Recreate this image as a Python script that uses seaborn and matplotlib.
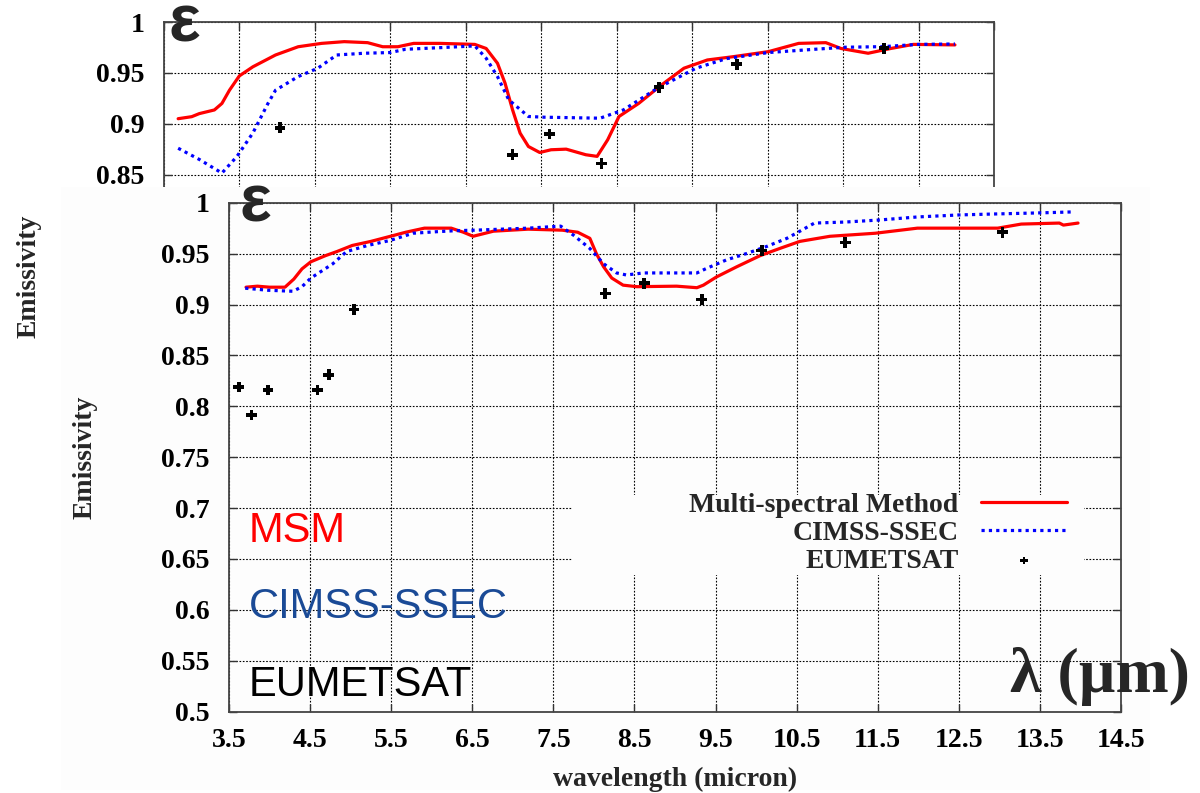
import numpy as np
import pandas as pd
import matplotlib
matplotlib.use("Agg")
import matplotlib.pyplot as plt
import seaborn as sns
from matplotlib.patches import Rectangle

# ---------------- data ----------------
x_ticks = [3.5, 4.5, 5.5, 6.5, 7.5, 8.5, 9.5, 10.5, 11.5, 12.5, 13.5, 14.5]
x_tick_labels = ["3.5", "4.5", "5.5", "6.5", "7.5", "8.5", "9.5", "10.5", "11.5", "12.5", "13.5", "14.5"]
y_ticks = [0.5, 0.55, 0.6, 0.65, 0.7, 0.75, 0.8, 0.85, 0.9, 0.95, 1.0]
y_tick_labels = ["0.5", "0.55", "0.6", "0.65", "0.7", "0.75", "0.8", "0.85", "0.9", "0.95", "1"]

# lower (front) chart
msm_wl = [3.71, 3.85, 4.00, 4.19, 4.30, 4.40, 4.51, 4.69, 4.83, 5.02, 5.25, 5.49, 5.68, 5.91, 6.24,
          6.39, 6.51, 6.76, 7.19, 7.61, 7.80, 7.95, 8.03, 8.12, 8.22, 8.36, 8.53, 9.02, 9.27, 9.35,
          9.51, 9.76, 10.05, 10.29, 10.54, 10.91, 11.47, 11.99, 12.51, 12.98, 13.27, 13.74, 13.79, 13.97]
msm_em = [0.917, 0.918, 0.917, 0.917, 0.925, 0.935, 0.942, 0.948, 0.952, 0.958, 0.962, 0.967, 0.971, 0.975, 0.975,
          0.971, 0.967, 0.972, 0.974, 0.973, 0.971, 0.965, 0.950, 0.937, 0.926, 0.919, 0.9175, 0.918, 0.9165, 0.919,
          0.927, 0.937, 0.948, 0.955, 0.962, 0.967, 0.970, 0.975, 0.975, 0.975, 0.979, 0.980, 0.978, 0.980]

cimss_wl = [3.70, 3.98, 4.29, 4.40, 4.51, 4.78, 4.95, 5.21, 5.49, 5.77, 6.06, 6.29, 6.53, 7.19, 7.59,
            7.75, 7.95, 8.12, 8.28, 8.40, 8.61, 9.27, 9.39, 9.64, 9.88, 10.13, 10.38, 10.54, 10.72, 11.10,
            11.52, 11.99, 12.51, 12.98, 13.50, 13.93]
cimss_em = [0.916, 0.914, 0.913, 0.9175, 0.926, 0.940, 0.952, 0.958, 0.963, 0.970, 0.9715, 0.9725, 0.973, 0.975, 0.977,
            0.968, 0.955, 0.940, 0.931, 0.929, 0.931, 0.931, 0.9355, 0.944, 0.950, 0.957, 0.965, 0.972, 0.980, 0.981,
            0.983, 0.986, 0.988, 0.989, 0.990, 0.991]

eum_wl = [3.62, 3.78, 3.98, 4.59, 4.73, 5.04, 8.14, 8.62, 9.33, 10.07, 11.10, 13.04]
eum_em = [0.819, 0.7915, 0.816, 0.816, 0.831, 0.895, 0.911, 0.921, 0.905, 0.953, 0.961, 0.971]

# upper (back) chart
msm2_wl = [3.69, 3.87, 3.97, 4.17, 4.27, 4.37, 4.50, 4.68, 4.98, 5.28, 5.59, 5.89, 6.20, 6.40, 6.60,
           6.81, 7.16, 7.62, 7.77, 7.92, 8.02, 8.12, 8.22, 8.33, 8.48, 8.63, 8.83, 9.09, 9.24, 9.38,
           9.53, 9.79, 10.09, 10.39, 10.70, 11.05, 11.51, 11.91, 12.27, 12.47, 12.83, 13.13, 13.43, 13.98]
msm2_em = [0.905, 0.907, 0.910, 0.9136, 0.920, 0.933, 0.947, 0.956, 0.9676, 0.9757, 0.979, 0.9807, 0.9797, 0.9757, 0.9757,
           0.979, 0.979, 0.978, 0.974, 0.9595, 0.940, 0.9137, 0.8908, 0.8777, 0.8718, 0.8745, 0.8751, 0.8696, 0.868, 0.8843,
           0.9072, 0.920, 0.938, 0.9546, 0.9627, 0.966, 0.9709, 0.979, 0.9797, 0.974, 0.9693, 0.974, 0.978, 0.9775]

cimss2_wl = [3.69, 3.97, 4.27, 4.47, 4.68, 4.88, 4.98, 5.28, 5.54, 5.79, 6.15, 6.50, 6.70, 7.16, 7.62,
             7.77, 7.92, 8.07, 8.33, 8.53, 9.28, 9.59, 10.04, 10.55, 10.95, 11.51, 12.12, 12.52, 13.03, 13.49, 13.98]
cimss2_em = [0.876, 0.865, 0.8516, 0.868, 0.891, 0.920, 0.933, 0.9464, 0.9546, 0.9676, 0.9693, 0.970, 0.9732, 0.9748, 0.9765,
             0.9644, 0.9464, 0.9235, 0.9072, 0.9065, 0.9055, 0.9137, 0.935, 0.9546, 0.964, 0.970, 0.9732, 0.9752, 0.9758, 0.978, 0.9784]

eum2_wl = [5.04, 8.12, 8.61, 9.30, 10.06, 11.09, 13.04]
eum2_em = [0.896, 0.8696, 0.890, 0.861, 0.936, 0.9585, 0.9742]

series_names = ["Multi-spectral Method", "CIMSS-SSEC", "EUMETSAT"]

# ---------------- style ----------------
sns.set_style("ticks")
plt.rcParams['font.family'] = ['Liberation Serif', 'DejaVu Serif']
plt.rcParams['font.weight'] = 'bold'
plt.rcParams['axes.labelweight'] = 'bold'

W, H = 1200, 793
fig = plt.figure(figsize=(12, 7.93), dpi=100)
fig.patch.set_facecolor('white')


def px_rect(x0, y0, x1, y1):
    return [x0 / W, 1 - y1 / H, (x1 - x0) / W, (y1 - y0) / H]


RED = '#ff0000'
BLUE = '#0000ff'
DOT = (0, (1.0, 1.3))
PANEL = '#fdfdfd'


def style_axes(ax):
    ax.set_xlim(3.5, 14.5)
    ax.set_ylim(0.5, 1.0)
    ax.set_xticks(x_ticks)
    ax.set_xticklabels(x_tick_labels)
    ax.set_yticks(y_ticks)
    ax.set_yticklabels(y_tick_labels)
    ax.grid(True, color='black', linestyle=(0, (1.5, 1.5)), linewidth=0.8)
    ax.set_axisbelow(True)
    ax.tick_params(direction='in', length=6, width=1, top=True, right=True,
                   labelsize=20, colors='#333333', labelcolor='black')
    ax.tick_params(axis='y', pad=14)
    ax.tick_params(axis='x', pad=12)
    for s in ax.spines.values():
        s.set_color('#444444')
        s.set_linewidth(1.3)


# ---- back chart ----
ax_top = fig.add_axes(px_rect(163.8, 22, 994.2, 531), zorder=0)
sns.lineplot(x=msm2_wl, y=msm2_em, ax=ax_top, color=RED, linewidth=2.3, sort=False,
             estimator=None, legend=False, zorder=3)
sns.lineplot(x=cimss2_wl, y=cimss2_em, ax=ax_top, color=BLUE, linewidth=2.3, sort=False,
             estimator=None, legend=False, linestyle=DOT, dash_capstyle='butt', zorder=3)
sns.scatterplot(x=eum2_wl, y=eum2_em, ax=ax_top, marker='P', s=60, color='black',
                edgecolor='none', legend=False, zorder=4)
style_axes(ax_top)
ax_top.set_xlabel("")
ax_top.set_ylabel("Emissivity", fontsize=20)
ax_top.yaxis.set_label_coords(-0.147, 0.5)

# cover panel of the front picture
fig.patches.append(Rectangle((61 / W, 1 - 790 / H), (1150 - 61) / W, (790 - 187) / H,
                             transform=fig.transFigure, facecolor=PANEL, edgecolor='none', zorder=1))

# ---- front chart ----
ax_bot = fig.add_axes(px_rect(229, 202.7, 1121, 711.7), zorder=2)
ax_bot.set_facecolor(PANEL)
sns.lineplot(x=msm_wl, y=msm_em, ax=ax_bot, color=RED, linewidth=2.3, sort=False,
             estimator=None, label=series_names[0], zorder=3)
sns.lineplot(x=cimss_wl, y=cimss_em, ax=ax_bot, color=BLUE, linewidth=2.3, sort=False,
             estimator=None, label=series_names[1], linestyle=DOT, dash_capstyle='butt', zorder=3)
sns.scatterplot(x=eum_wl, y=eum_em, ax=ax_bot, marker='P', s=60, color='black',
                edgecolor='none', label=series_names[2], zorder=4)
style_axes(ax_bot)
ax_bot.set_xlabel("wavelength (micron)", fontsize=20, labelpad=10)
ax_bot.set_ylabel("Emissivity", fontsize=20)
ax_bot.yaxis.set_label_coords(-0.147, 0.5)

# white box behind the legend (gnuplot key)
ax_bot.add_patch(Rectangle((0.3845, 0.2686), 0.574, 0.157, transform=ax_bot.transAxes,
                           facecolor=PANEL, edgecolor='none', zorder=1.5))
handles, labels = ax_bot.get_legend_handles_labels()
leg = ax_bot.legend(handles, labels, loc='center right', bbox_to_anchor=(0.9395, 0.3505),
                    frameon=False, markerfirst=False, borderpad=0, borderaxespad=0,
                    handlelength=3.1, handletextpad=0.8, labelspacing=0.09,
                    fontsize=20, markerscale=0.7)
leg.set_zorder(5)

# ---- overlay annotations ----
sans = ['Liberation Sans', 'DejaVu Sans']
fig.text(168 / W, 1 - 42 / H, 'ε', fontsize=48, fontweight='bold', family=sans,
         ha='left', va='baseline', zorder=6)
fig.text(239 / W, 1 - 222 / H, 'ε', fontsize=48, fontweight='bold', family=sans,
         ha='left', va='baseline', zorder=6)
fig.text(1190 / W, 1 - 692 / H, 'λ (µm)', fontsize=46, fontweight='bold',
         family=['Liberation Serif', 'DejaVu Serif'], ha='right', va='baseline', zorder=6)
fig.text(249 / W, 1 - 541.7 / H, 'MSM', fontsize=30, fontweight='normal', family=sans,
         color='#ff0000', ha='left', va='baseline', zorder=6)
fig.text(249 / W, 1 - 618 / H, 'CIMSS-SSEC', fontsize=30, fontweight='normal', family=sans,
         color='#1a4a96', ha='left', va='baseline', zorder=6)
fig.text(249 / W, 1 - 696 / H, 'EUMETSAT', fontsize=30, fontweight='normal', family=sans,
         color='black', ha='left', va='baseline', zorder=6)

fig.savefig("out.png", dpi=100, facecolor='white')
